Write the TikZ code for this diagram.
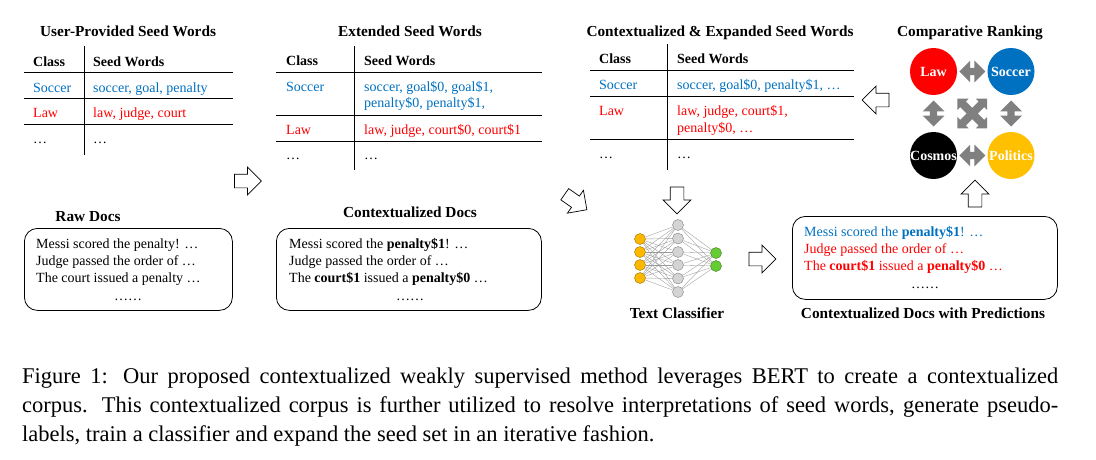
\documentclass[tikz,border=0pt]{standalone}
\usepackage{fontspec}
\setmainfont{Liberation Serif}
\usetikzlibrary{shapes.arrows,backgrounds,calc}

\definecolor{socblue}{RGB}{0,112,192}
\definecolor{lawred}{RGB}{255,0,0}
\definecolor{polyellow}{RGB}{255,192,0}
\definecolor{netorange}{RGB}{255,184,0}
\definecolor{netgreen}{RGB}{102,204,51}
\definecolor{netgray}{RGB}{212,212,212}

\begin{document}
\begin{tikzpicture}[x=1pt, y=-1pt,
    every node/.style={font=\fontsize{14}{16}\selectfont},
    ttl/.style={font=\fontsize{15.3}{17}\selectfont\bfseries, anchor=base, inner sep=0pt},
    dots/.style={anchor=base, inner sep=0pt},
    cell/.style={anchor=base west, inner sep=0pt},
    hdr/.style={cell, font=\fontsize{14}{16}\selectfont\bfseries},
    rule/.style={line width=0.8pt},
    docbox/.style={draw, rounded corners=13pt, line width=0.8pt, anchor=north west},
    bigarrow/.style={single arrow, draw, fill=white, line width=0.7pt,
      minimum height=27pt, minimum width=26pt, inner sep=6.5pt},
    rankarrow/.style={double arrow, fill=gray, draw=none,
      minimum height=26pt, minimum width=14pt, inner sep=3.5pt},
    cls/.style={circle, minimum size=47pt, inner sep=0pt},
    clstext/.style={text=white, inner sep=0pt, font=\fontsize{14}{16}\selectfont\bfseries},
    neuron/.style={circle, draw=#1!60!black, fill=#1, minimum size=11pt,
      inner sep=0pt, line width=0.4pt},
    wire/.style={gray!80, line width=0.35pt},
  ]
  \useasboundingbox (0,0) rectangle (1096,459);

  % user-provided seed words
  \node[ttl] (t1title) at (128,36) {User-Provided Seed Words};
  \node[hdr] (t1hc) at (33,66) {Class};
  \node[hdr] (t1hs) at (93,66) {Seed Words};
  \draw[rule] (24,72) -- (233,72) (24,98) -- (233,98) (24,124) -- (233,124);
  \draw[rule] (84,46) -- (84,155);
  \node[cell, socblue] (t1c1) at (33,92) {Soccer};
  \node[cell, socblue] (t1s1) at (93,92) {soccer, goal, penalty};
  \node[cell, lawred] (t1c2) at (33,117) {Law};
  \node[cell, lawred] (t1s2) at (93,117) {law, judge, court};
  \node[cell] (t1c3) at (33,143) {…};
  \node[cell] (t1s3) at (93,143) {…};

  % extended seed words
  \node[ttl] (t2title) at (410,36) {Extended Seed Words};
  \node[hdr] (t2hc) at (286,65) {Class};
  \node[hdr] (t2hs) at (364,65) {Seed Words};
  \draw[rule] (276,72) -- (542,72) (276,115.5) -- (542,115.5) (276,141.5) -- (542,141.5);
  \draw[rule] (354.5,46) -- (354.5,170);
  \node[cell, socblue] (t2c1) at (286,91) {Soccer};
  \node[cell, socblue] (t2s1) at (364,91) {soccer, goal\$0, goal\$1,};
  \node[cell, socblue] (t2s1b) at (364,107) {penalty\$0, penalty\$1,};
  \node[cell, lawred] (t2c2) at (286,134) {Law};
  \node[cell, lawred] (t2s2) at (364,134) {law, judge, court\$0, court\$1};
  \node[cell] (t2c3) at (286,159) {…};
  \node[cell] (t2s3) at (364,159) {…};

  % contextualized and expanded seed words
  \node[ttl] (t3title) at (720,36) {Contextualized \& Expanded Seed Words};
  \node[hdr] (t3hc) at (599,63) {Class};
  \node[hdr] (t3hs) at (677,63) {Seed Words};
  \draw[rule] (590,70.5) -- (854,70.5) (590,96.5) -- (854,96.5) (590,139.5) -- (854,139.5);
  \draw[rule] (667.5,44) -- (667.5,170);
  \node[cell, socblue] (t3c1) at (599,89) {Soccer};
  \node[cell, socblue] (t3s1) at (677,89) {soccer, goal\$0, penalty\$1, …};
  \node[cell, lawred] (t3c2) at (599,115) {Law};
  \node[cell, lawred] (t3s2) at (677,115) {law, judge, court\$1,};
  \node[cell, lawred] (t3s2b) at (677,132) {penalty\$0, …};
  \node[cell] (t3c3) at (599,158) {…};
  \node[cell] (t3s3) at (677,158) {…};

  % comparative ranking
  \node[ttl] (rtitle) at (970,36) {Comparative Ranking};
  \node[cls, fill=lawred, label={[clstext]center:Law}] (law) at (933.5,71.5) {};
  \node[cls, fill=socblue, label={[clstext]center:Soccer}] (soc) at (1011,71.5) {};
  \node[cls, fill=black, label={[clstext]center:Cosmos}] (cos) at (933.5,155.5) {};
  \node[cls, fill=polyellow, label={[clstext]center:Politics}] (pol) at (1011,155.5) {};
  \node[rankarrow] (lawsoc) at ($(law)!0.5!(soc)$) {};
  \node[rankarrow] (cospol) at ($(cos)!0.5!(pol)$) {};
  \node[rankarrow, shape border rotate=90] (lawcos) at ($(law)!0.5!(cos)$) {};
  \node[rankarrow, shape border rotate=90] (socpol) at ($(soc)!0.5!(pol)$) {};
  \coordinate (mid) at ($(law)!0.5!(pol)$);
  % diagonal four-way arrow
  \begin{scope}[shift={(mid)}, rotate=45]
    \foreach \r in {0,90}
      \fill[gray, rotate=\r] (-21,0) -- (-13,8) -- (-13,4) -- (13,4) -- (13,8)
        -- (21,0) -- (13,-8) -- (13,-4) -- (-13,-4) -- (-13,-8) -- cycle;
  \end{scope}

  % block arrows
  \node[bigarrow] (a1) at (244.5,181) {};
  \node[bigarrow, rotate=-35] (a2) at (573,200) {};
  \node[bigarrow, shape border rotate=270] (a3) at (677,197) {};
  \node[bigarrow] (a4) at (759,259) {};
  \node[bigarrow, shape border rotate=90] (a5) at (975,197) {};
  \node[bigarrow, shape border rotate=180] (a6) at (879,100) {};

  % raw docs
  \node[ttl] (rawttl) at (88,221) {Raw Docs};
  \node[docbox, minimum width=208pt, minimum height=82pt] (rawbox) at (24,228) {};
  \node[cell] (raw1) at (36,248) {Messi scored the penalty! …};
  \node[cell] (raw2) at (36,265) {Judge passed the order of …};
  \node[cell] (raw3) at (36,282) {The court issued a penalty …};
  \node[dots] (raw4) at (128,300) {……};

  % contextualized docs
  \node[ttl] (ctxttl) at (410,217) {Contextualized Docs};
  \node[docbox, minimum width=265pt, minimum height=82pt] (ctxbox) at (276,228) {};
  \node[cell] (ctx1) at (289,248) {Messi scored the \textbf{penalty\$1}! …};
  \node[cell] (ctx2) at (289,265) {Judge passed the order of …};
  \node[cell] (ctx3) at (289,282) {The \textbf{court\$1} issued a \textbf{penalty\$0} …};
  \node[dots] (ctx4) at (410,300) {……};

  % text classifier
  \foreach \i/\y in {1/239,2/252,3/265,4/278}
    \node[neuron=netorange] (in\i) at (640,\y) {};
  \foreach \i/\y in {1/225,2/238.5,3/252,4/265,5/278.5,6/292}
    \node[neuron=netgray] (hid\i) at (678,\y) {};
  \foreach \i/\y in {1/253,2/266}
    \node[neuron=netgreen] (out\i) at (716,\y) {};
  \begin{scope}[on background layer]
    \foreach \i in {1,...,4}
      \foreach \j in {1,...,6}
        \draw[wire] (in\i) -- (hid\j);
    \foreach \j in {1,...,6}
      \foreach \k in {1,2}
        \draw[wire] (hid\j) -- (out\k);
  \end{scope}
  \node[ttl] (netttl) at (677,318) {Text Classifier};

  % contextualized docs with predictions
  \node[docbox, minimum width=265pt, minimum height=83pt] (predbox) at (792,216) {};
  \node[cell, socblue] (pred1) at (804,236) {Messi scored the \textbf{penalty\$1}! …};
  \node[cell, lawred] (pred2) at (804,253) {Judge passed the order of …};
  \node[cell, lawred] (pred3) at (804,270) {The \textbf{court\$1} issued a \textbf{penalty\$0} …};
  \node[dots] (pred4) at (925,288) {……};
  \node[ttl] (predttl) at (923,318) {Contextualized Docs with Predictions};

  % caption
  \node[anchor=north west, inner sep=0pt, text width=1036pt, align=justify,
    font=\fontsize{22.5}{29}\selectfont] (caption) at (22,368)
    {Figure 1: Our proposed contextualized weakly supervised method leverages BERT to create a contextualized\linebreak
     corpus. This contextualized corpus is further utilized to resolve interpretations of seed words, generate pseudo-\linebreak
     labels, train a classifier and expand the seed set in an iterative fashion.};
\end{tikzpicture}
\end{document}
